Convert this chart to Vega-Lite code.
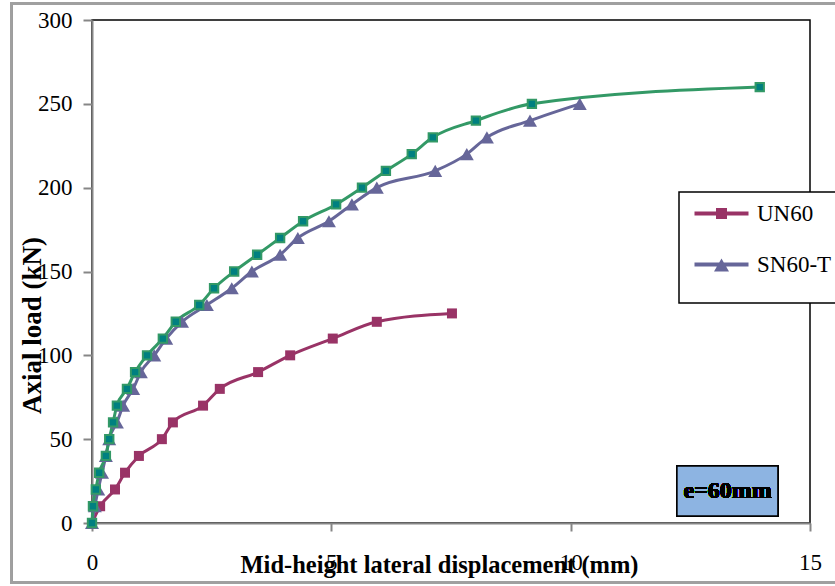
{
  "$schema": "https://vega.github.io/schema/vega-lite/v6.json",
  "width": 718,
  "height": 503,
  "autosize": {"type": "none"},
  "padding": {"left": 92, "top": 20, "right": 25, "bottom": 63},
  "background": "#ffffff",
  "config": {
    "font": "Liberation Serif",
    "view": {"stroke": "#000000", "strokeWidth": 1.5},
    "legend": {
      "strokeColor": "#000000",
      "strokeWidth": 1.5,
      "fillColor": "#ffffff",
      "padding": 10,
      "labelFont": "Liberation Serif",
      "labelFontSize": 23,
      "labelColor": "#000000",
      "labelOffset": 45,
      "rowPadding": 27,
      "symbolSize": 400,
      "symbolStrokeWidth": 0,
      "symbolOpacity": 1
    },
    "axis": {
      "grid": false,
      "domainColor": "#868686",
      "domainWidth": 2,
      "tickColor": "#868686",
      "tickWidth": 2,
      "labelColor": "#000000",
      "labelFont": "Liberation Serif",
      "labelFontSize": 23,
      "titleFont": "Liberation Serif",
      "titleFontWeight": "bold",
      "titleColor": "#000000",
      "labelOverlap": false,
      "labelFlush": false
    }
  },
  "data": {
    "values": [
      {"series": "UN60", "x": 0, "y": 0},
      {"series": "UN60", "x": 0.17, "y": 10},
      {"series": "UN60", "x": 0.48, "y": 20},
      {"series": "UN60", "x": 0.69, "y": 30},
      {"series": "UN60", "x": 0.98, "y": 40},
      {"series": "UN60", "x": 1.46, "y": 50},
      {"series": "UN60", "x": 1.69, "y": 60},
      {"series": "UN60", "x": 2.32, "y": 70},
      {"series": "UN60", "x": 2.67, "y": 80},
      {"series": "UN60", "x": 3.47, "y": 90},
      {"series": "UN60", "x": 4.14, "y": 100},
      {"series": "UN60", "x": 5.03, "y": 110},
      {"series": "UN60", "x": 5.95, "y": 120},
      {"series": "UN60", "x": 7.52, "y": 125},
      {"series": "SN60-T", "x": 0, "y": 0},
      {"series": "SN60-T", "x": 0.06, "y": 10},
      {"series": "SN60-T", "x": 0.13, "y": 20},
      {"series": "SN60-T", "x": 0.21, "y": 30},
      {"series": "SN60-T", "x": 0.29, "y": 40},
      {"series": "SN60-T", "x": 0.36, "y": 50},
      {"series": "SN60-T", "x": 0.52, "y": 60},
      {"series": "SN60-T", "x": 0.65, "y": 70},
      {"series": "SN60-T", "x": 0.86, "y": 80},
      {"series": "SN60-T", "x": 1.02, "y": 90},
      {"series": "SN60-T", "x": 1.30, "y": 100},
      {"series": "SN60-T", "x": 1.55, "y": 110},
      {"series": "SN60-T", "x": 1.88, "y": 120},
      {"series": "SN60-T", "x": 2.40, "y": 130},
      {"series": "SN60-T", "x": 2.92, "y": 140},
      {"series": "SN60-T", "x": 3.34, "y": 150},
      {"series": "SN60-T", "x": 3.93, "y": 160},
      {"series": "SN60-T", "x": 4.30, "y": 170},
      {"series": "SN60-T", "x": 4.95, "y": 180},
      {"series": "SN60-T", "x": 5.43, "y": 190},
      {"series": "SN60-T", "x": 5.95, "y": 200},
      {"series": "SN60-T", "x": 7.17, "y": 210},
      {"series": "SN60-T", "x": 7.83, "y": 220},
      {"series": "SN60-T", "x": 8.25, "y": 230},
      {"series": "SN60-T", "x": 9.15, "y": 240},
      {"series": "SN60-T", "x": 10.19, "y": 250},
      {"series": "SN60", "x": 0, "y": 0},
      {"series": "SN60", "x": 0.02, "y": 10},
      {"series": "SN60", "x": 0.08, "y": 20},
      {"series": "SN60", "x": 0.15, "y": 30},
      {"series": "SN60", "x": 0.29, "y": 40},
      {"series": "SN60", "x": 0.36, "y": 50},
      {"series": "SN60", "x": 0.44, "y": 60},
      {"series": "SN60", "x": 0.52, "y": 70},
      {"series": "SN60", "x": 0.73, "y": 80},
      {"series": "SN60", "x": 0.90, "y": 90},
      {"series": "SN60", "x": 1.15, "y": 100},
      {"series": "SN60", "x": 1.48, "y": 110},
      {"series": "SN60", "x": 1.75, "y": 120},
      {"series": "SN60", "x": 2.24, "y": 130},
      {"series": "SN60", "x": 2.55, "y": 140},
      {"series": "SN60", "x": 2.97, "y": 150},
      {"series": "SN60", "x": 3.45, "y": 160},
      {"series": "SN60", "x": 3.93, "y": 170},
      {"series": "SN60", "x": 4.41, "y": 180},
      {"series": "SN60", "x": 5.10, "y": 190},
      {"series": "SN60", "x": 5.64, "y": 200},
      {"series": "SN60", "x": 6.14, "y": 210},
      {"series": "SN60", "x": 6.68, "y": 220},
      {"series": "SN60", "x": 7.12, "y": 230},
      {"series": "SN60", "x": 8.02, "y": 240},
      {"series": "SN60", "x": 9.19, "y": 250},
      {"series": "SN60", "x": 13.95, "y": 260}
    ]
  },
  "encoding": {
    "x": {
      "field": "x",
      "type": "quantitative",
      "scale": {"domain": [0, 15], "nice": false, "zero": false},
      "axis": {
        "values": [0, 5, 10, 15],
        "tickSize": 8,
        "labelPadding": 20,
        "title": "Mid-height lateral displacement (mm)",
        "titleFontSize": 24.5,
        "titleX": 347,
        "titleY": 42,
        "titleBaseline": "middle"
      }
    },
    "y": {
      "field": "y",
      "type": "quantitative",
      "scale": {"domain": [0, 300], "nice": false, "zero": false},
      "axis": {
        "values": [0, 50, 100, 150, 200, 250, 300],
        "tickSize": 9,
        "labelPadding": 11,
        "title": "Axial load (kN)",
        "titleFontSize": 27,
        "titleX": -60,
        "titleY": 305,
        "titleBaseline": "middle"
      }
    }
  },
  "layer": [
    {
      "mark": {"type": "rect", "fill": null, "stroke": "#a0a0a0", "strokeWidth": 2, "clip": false},
      "encoding": {
        "x": {"datum": -1.69, "type": "quantitative"},
        "x2": {"datum": 17},
        "y": {"datum": 309.7, "type": "quantitative"},
        "y2": {"datum": -35.5}
      }
    },
    {
      "transform": [{"filter": "datum.series === 'UN60'"}],
      "mark": {"type": "line", "color": "#993366", "strokeWidth": 3, "interpolate": "monotone"}
    },
    {
      "transform": [{"filter": "datum.series === 'SN60-T'"}],
      "mark": {"type": "line", "color": "#666699", "strokeWidth": 3, "interpolate": "monotone"}
    },
    {
      "transform": [{"filter": "datum.series === 'SN60'"}],
      "mark": {"type": "line", "color": "#339966", "strokeWidth": 3, "interpolate": "monotone"}
    },
    {
      "transform": [{"filter": "datum.series === 'UN60'"}],
      "mark": {"type": "point", "shape": "square", "filled": true, "size": 100, "color": "#993366", "opacity": 1}
    },
    {
      "transform": [{"filter": "datum.series === 'SN60-T'"}],
      "mark": {"type": "point", "shape": "triangle-up", "filled": true, "size": 196, "color": "#666699", "opacity": 1}
    },
    {
      "transform": [{"filter": "datum.series === 'SN60'"}],
      "mark": {"type": "point", "shape": "square", "filled": true, "size": 70, "fill": "#008080", "stroke": "#339966", "strokeWidth": 2, "opacity": 1}
    },
    {
      "transform": [{"filter": "datum.series !== 'SN60'"}],
      "mark": {"type": "point", "filled": true, "size": 0},
      "encoding": {
        "color": {
          "field": "series",
          "type": "nominal",
          "scale": {"domain": ["UN60", "SN60-T"], "range": ["#993366", "#666699"]},
          "legend": {
            "orient": "none",
            "legendX": 587,
            "legendY": 172,
            "title": " ",
            "titleOrient": "bottom",
            "titleFontSize": 13,
            "titlePadding": 3,
            "rowPadding": 27
          }
        },
        "shape": {
          "field": "series",
          "type": "nominal",
          "scale": {
            "domain": ["UN60", "SN60-T"],
            "range": [
              "M-0.6,-0.2L4.8,-0.2L4.8,0.2L-0.6,0.2Z M1.55,-0.55L2.65,-0.55L2.65,0.55L1.55,0.55Z",
              "M-0.6,-0.2L4.8,-0.2L4.8,0.2L-0.6,0.2Z M2.1,-0.6L2.85,0.7L1.35,0.7Z"
            ]
          },
          "legend": {
            "orient": "none",
            "legendX": 587,
            "legendY": 172,
            "title": " ",
            "titleOrient": "bottom",
            "titleFontSize": 13,
            "titlePadding": 3,
            "rowPadding": 27
          }
        }
      }
    },
    {
      "mark": {"type": "rect", "fill": "#8DB4E2", "stroke": "#000000", "strokeWidth": 1.5},
      "encoding": {
        "x": {"datum": 12.22, "type": "quantitative"},
        "x2": {"datum": 14.33},
        "y": {"datum": 34, "type": "quantitative"},
        "y2": {"datum": 4.2}
      }
    },
    {
      "mark": {"type": "text", "text": "e=60mm", "font": "Liberation Serif", "fontSize": 24, "fontWeight": "bold", "fill": "#000000", "align": "center", "baseline": "middle"},
      "encoding": {
        "x": {"datum": 13.28, "type": "quantitative"},
        "y": {"datum": 19.1, "type": "quantitative"}
      }
    }
  ]
}
